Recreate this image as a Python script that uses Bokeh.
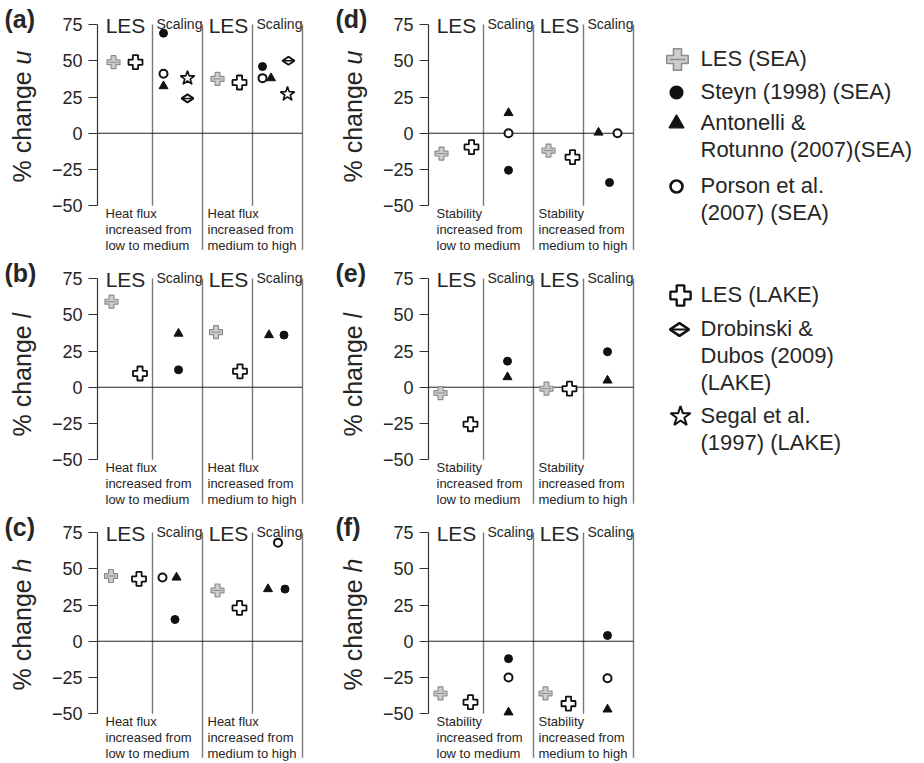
import numpy as np
from bokeh.plotting import figure
from bokeh.models import Range1d, FixedTicker
from bokeh.layouts import row, column
from bokeh.embed import file_html
from bokeh.resources import INLINE
from bokeh.core.properties import value

FONT = "Liberation Sans"
TXT = "#262626"

# ---------------- data ----------------
panel_ids = ["a", "b", "c", "d", "e", "f"]
panel_vars = {"a": "u", "b": "l", "c": "h", "d": "u", "e": "l", "f": "h"}
y_ticks = [-50, -25, 0, 25, 50, 75]
heat_notes = ["Heat flux\nincreased from\nlow to medium", "Heat flux\nincreased from\nmedium to high"]
stab_notes = ["Stability\nincreased from\nlow to medium", "Stability\nincreased from\nmedium to high"]

# % change, [transition 1, transition 2]
les_sea_val = {"a": [49, 37.5], "b": [59, 38], "c": [45, 35], "d": [-14, -12], "e": [-4, -1], "f": [-36, -36]}
les_lake_val = {"a": [49, 35], "b": [9.5, 11], "c": [43, 23], "d": [-9.5, -16.5], "e": [-25.5, -1], "f": [-42, -43]}
steyn_val = {"a": [69, 46], "b": [12, 36], "c": [15, 36], "d": [-25.5, -34], "e": [18, 24.5], "f": [-12, 4]}
antonelli_val = {"a": [32.5, 38], "b": [37, 36], "c": [44, 36], "d": [14, 0.5], "e": [7, 4.7], "f": [-49, -47]}
porson_val = {"a": [41, 38], "c": [44, 68], "d": [0, 0], "f": [-25, -25.5]}
drobinski_val = {"a": [24, 50]}
segal_val = {"a": [38, 27]}

# horizontal placement within the LES / Scaling columns
les_sea_pos = {"a": [0.22, 2.3], "b": [0.18, 2.27], "c": [0.17, 2.3], "d": [0.16, 2.3], "e": [0.14, 2.26], "f": [0.14, 2.24]}
les_lake_pos = {"a": [0.66, 2.74], "b": [0.75, 2.75], "c": [0.73, 2.74], "d": [0.76, 2.78], "e": [0.74, 2.72], "f": [0.74, 2.7]}
steyn_pos = {"a": [1.22, 3.2], "b": [1.52, 3.63], "c": [1.45, 3.65], "d": [1.5, 3.52], "e": [1.48, 3.48], "f": [1.5, 3.48]}
antonelli_pos = {"a": [1.22, 3.37], "b": [1.52, 3.33], "c": [1.48, 3.31], "d": [1.5, 3.3], "e": [1.48, 3.48], "f": [1.5, 3.48]}
porson_pos = {"a": [1.22, 3.2], "c": [1.2, 3.51], "d": [1.5, 3.68], "f": [1.5, 3.48]}
drobinski_pos = {"a": [1.7, 3.72]}
segal_pos = {"a": [1.7, 3.7]}

series = [
    ("les_sea", les_sea_pos, les_sea_val),
    ("les_lake", les_lake_pos, les_lake_val),
    ("porson", porson_pos, porson_val),
    ("steyn", steyn_pos, steyn_val),
    ("antonelli", antonelli_pos, antonelli_val),
    ("drobinski", drobinski_pos, drobinski_val),
    ("segal", segal_pos, segal_val),
]

legend_kinds = ["les_sea", "steyn", "antonelli", "porson", "les_lake", "drobinski", "segal"]
legend_texts = [["LES (SEA)"], ["Steyn (1998) (SEA)"], ["Antonelli &", "Rotunno (2007)(SEA)"],
                ["Porson et al.", "(2007) (SEA)"], ["LES (LAKE)"], ["Drobinski &", "Dubos (2009)", "(LAKE)"],
                ["Segal et al.", "(1997) (LAKE)"]]

# ---------------- styles / layout ----------------
MK = {
    "les_sea": dict(marker="plus", size=13, fill_color="#cdcdcd", line_color="#8c8c8c", line_width=1.2),
    "les_lake": dict(marker="plus", size=14, fill_color="white", line_color="#111111", line_width=1.8),
    "steyn": dict(marker="circle", size=8, fill_color="#111111", line_color="#111111", line_width=1),
    "antonelli": dict(marker="triangle", size=9, fill_color="#111111", line_color="#111111", line_width=1),
    "porson": dict(marker="circle", size=8, fill_color="white", line_color="#111111", line_width=2),
    "drobinski": dict(marker="diamond", size=12, angle=np.pi / 2, fill_color="white", line_color="#111111", line_width=2),
    "segal": dict(marker="star", size=15, fill_color="white", line_color="#111111", line_width=1.6),
}
OVER = {
    "les_sea": dict(rel=0.75, line_color="#8c8c8c", line_width=1.0),
    "drobinski": dict(rel=1.0, line_color="#111111", line_width=1.5),
}


def draw(p, kind, xs, ys, scale=1.0, lw_scale=1.0):
    st = dict(MK[kind])
    st["size"] = st["size"] * scale
    st["line_width"] = st["line_width"] * lw_scale
    p.scatter(xs, ys, **st)
    if kind in OVER:
        o = OVER[kind]
        p.scatter(xs, ys, marker="dash", size=st["size"] * o["rel"], line_color=o["line_color"],
                  line_width=o["line_width"] * lw_scale)


K = 1.45          # px per % unit
X0, X1 = -0.1, 4.04
TOP = 24
LABW = 48
row_h = {"a": 254, "b": 254, "c": 255, "d": 254, "e": 254, "f": 255}


def bare(fig):
    fig.grid.visible = False
    fig.outline_line_color = None
    return fig


def make_label_fig(pid):
    h = row_h[pid]
    f = bare(figure(width=LABW, height=h, x_range=Range1d(0, LABW), y_range=Range1d(0, h),
                    output_backend="svg", toolbar_location=None, x_axis_location=None, y_axis_location=None,
                    min_border=0, min_border_left=0, min_border_right=0, min_border_top=0, min_border_bottom=0))
    f.text(x=[4], y=[h - 4], text=["(%s)" % pid], text_font=value(FONT), text_font_size="25px",
           text_font_style="bold", text_align="left", text_baseline="top", text_color=TXT)
    fs = 25
    w = 4.725 * fs
    yb = h - (TOP + 158)
    f.text(x=[21], y=[yb], text=["% change "], angle=np.pi / 2, text_font=value(FONT),
           text_font_size="%dpx" % fs, text_align="left", text_baseline="middle", text_color=TXT)
    f.text(x=[21], y=[yb + w], text=[panel_vars[pid]], angle=np.pi / 2, text_font=value(FONT),
           text_font_size="%dpx" % fs, text_font_style="italic", text_align="left", text_baseline="middle",
           text_color=TXT)
    return f


def make_panel(pid):
    h = row_h[pid]
    right = pid in ("d", "e", "f")
    y_end = 75 + TOP / K
    y_start = y_end - h / K
    p = bare(figure(frame_width=207, frame_height=h, x_range=Range1d(X0, X1), y_range=Range1d(y_start, y_end),
                    output_backend="svg", toolbar_location=None, x_axis_location=None,
                    min_border_left=97 - LABW, min_border_right=24 if right else 27,
                    min_border_top=0, min_border_bottom=0))
    ax = p.yaxis[0]
    ax.bounds = (-50, 75)
    ax.ticker = FixedTicker(ticks=y_ticks)
    ax.major_tick_in = 0
    ax.major_tick_out = 9
    ax.minor_tick_out = 0
    ax.minor_tick_in = 0
    ax.axis_line_color = "#333333"
    ax.axis_line_width = 1.2
    ax.major_tick_line_color = "#333333"
    ax.major_tick_line_width = 1.2
    ax.major_label_text_font = FONT
    ax.major_label_text_font_size = "18px"
    ax.major_label_text_color = TXT
    ax.major_label_standoff = 6

    ybot = max(y_start, -50 - 44 / K)
    p.segment(x0=[1, 2, 3, 4], y0=[75] * 4, x1=[1, 2, 3, 4], y1=[-50, ybot, -50, ybot],
              line_color="#7a7a7a", line_width=1.4)
    p.segment(x0=[X0], y0=[0], x1=[4.0], y1=[0], line_color="#222222", line_width=1.2)

    p.text(x=[0.46, 2.52], y=[74, 74], text=["LES", "LES"], text_font=value(FONT), text_font_size="21px",
           text_align="center", text_baseline="alphabetic", text_color=TXT)
    p.text(x=[1.08, 3.08], y=[75.5, 75.5], text=["Scaling", "Scaling"], text_font=value(FONT),
           text_font_size="14px", text_align="left", text_baseline="alphabetic", text_color=TXT)
    notes = heat_notes if pid in ("a", "b", "c") else stab_notes
    p.text(x=[0.06, 2.1], y=[-50, -50], text=notes, text_font=value(FONT), text_font_size="13px",
           text_align="left", text_baseline="top", text_line_height=1.08, text_color=TXT)

    for kind, pos, val in series:
        if pid in val:
            draw(p, kind, pos[pid], val[pid])
    return p


# ---------------- legend ----------------
LW, LH = 265, 763
leg = bare(figure(width=LW, height=LH, x_range=Range1d(0, LW), y_range=Range1d(LH, 0), output_backend="svg",
                  toolbar_location=None, x_axis_location=None, y_axis_location=None,
                  min_border=0, min_border_left=0, min_border_right=0, min_border_top=0, min_border_bottom=0))
leg_scale = {"les_sea": 1.65, "les_lake": 1.45, "steyn": 1.6, "antonelli": 1.65, "porson": 1.5,
             "drobinski": 1.6, "segal": 1.4}
leg_mx = [18, 17, 17, 17, 21, 20, 21]
leg_y = [58, 91, 122, 185, 294, 328, 415]
LINE = 27
for kind, lines, mx, y in zip(legend_kinds, legend_texts, leg_mx, leg_y):
    draw(leg, kind, [mx], [y + 1], scale=leg_scale[kind], lw_scale=1.3)
    leg.text(x=[41] * len(lines), y=[y + i * LINE for i in range(len(lines))], text=lines,
             text_font=value(FONT), text_font_size="22px", text_align="left", text_baseline="middle",
             text_color=TXT)

rows = []
for lp, rp in (("a", "d"), ("b", "e"), ("c", "f")):
    rows.append(row(make_label_fig(lp), make_panel(lp), make_label_fig(rp), make_panel(rp)))

layout = row(column(*rows), leg)

open("out.html", "w").write(file_html(layout, INLINE))
